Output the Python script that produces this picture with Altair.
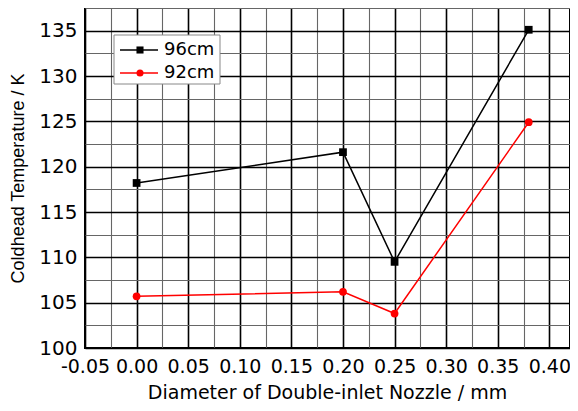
import altair as alt
import pandas as pd

# ---- data ----
diam = [0.00, 0.20, 0.25, 0.38]
t_96 = [118.2, 121.6, 109.5, 135.1]
t_92 = [105.7, 106.2, 103.8, 124.9]
series = ["96cm", "92cm"]
colors = ["#000000", "#ff0000"]
shapes = ["square", "circle"]

x_ticks = [-0.05, -0.025, 0.0, 0.025, 0.05, 0.075, 0.1, 0.125, 0.15, 0.175,
           0.2, 0.225, 0.25, 0.275, 0.3, 0.325, 0.35, 0.375, 0.4]
y_ticks = [100, 102.5, 105, 107.5, 110, 112.5, 115, 117.5, 120, 122.5,
           125, 127.5, 130, 132.5, 135, 137.5]

rows = []
for name, vals in zip(series, [t_96, t_92]):
    for d, t in zip(diam, vals):
        rows.append({"d": d, "t": t, "s": name})
df = pd.DataFrame(rows)

FONT = "DejaVu Sans"

x_axis = alt.Axis(
    values=x_ticks,
    labelExpr="abs(round(datum.value*40)) % 2 == 0 ? replace(format(datum.value, '.2f'), '\u2212', '-') : ''",
    grid=True,
    gridColor={"condition": {"test": "abs(round(datum.value*40)) % 2 == 0", "value": "#000000"}, "value": "#666666"},
    gridWidth={"condition": {"test": "abs(round(datum.value*40)) % 2 == 0", "value": 1.6}, "value": 1.1},
    ticks=False, domain=False, labelPadding=9, labelFlush=False, labelOverlap=False,
    labelBound=False, labelFontSize=19,
    titleX=242, titleY=44, titleBaseline="middle", titleAlign="center",
    titleFont=FONT, titleFontSize=19,
)
y_axis = alt.Axis(
    values=y_ticks,
    labelExpr="round(datum.value*2) % 10 == 0 ? format(datum.value, 'd') : ''",
    grid=True,
    gridColor={"condition": {"test": "round(datum.value*2) % 10 == 0", "value": "#000000"}, "value": "#666666"},
    gridWidth={"condition": {"test": "round(datum.value*2) % 10 == 0", "value": 1.6}, "value": 1.1},
    ticks=False, domain=False, labelPadding=8, labelFlush=False, labelOverlap=False,
    labelFontSize=20,
    titleX=-67, titleY=170, titleBaseline="middle", titleAlign="center", titleAngle=-90,
    titleFont="Liberation Sans", titleFontSize=18,
)

base = alt.Chart(df).encode(
    x=alt.X("d:Q", scale=alt.Scale(domain=[-0.05, 0.42], nice=False, zero=False),
            axis=x_axis, title="Diameter of Double-inlet Nozzle / mm"),
    y=alt.Y("t:Q", scale=alt.Scale(domain=[100, 137.5], nice=False, zero=False),
            axis=y_axis, title="Coldhead Temperature / K"),
    color=alt.Color("s:N", scale=alt.Scale(domain=series, range=colors), legend=None),
)
lines = base.mark_line(strokeWidth=1.5)
points = base.mark_point(filled=True, opacity=1, size=60).encode(
    shape=alt.Shape("s:N", scale=alt.Scale(domain=series, range=shapes), legend=None)
)

layers = [lines, points]

# ---- manual legend box ----
legend_box = alt.Chart(pd.DataFrame({"s": [series[0]]})).mark_rect(
    fill="white", stroke="#888888", strokeWidth=1
).encode(x=alt.value(29), x2=alt.value(135), y=alt.value(27), y2=alt.value(76))
layers.append(legend_box)

for i, name in enumerate(series):
    yy = 42 + 23 * i
    one = pd.DataFrame({"s": [name]})
    layers.append(alt.Chart(one).mark_rule(color=colors[i], strokeWidth=1.5).encode(
        x=alt.value(35), x2=alt.value(73), y=alt.value(yy)))
    layers.append(alt.Chart(one).mark_point(shape=shapes[i], filled=True, color=colors[i],
                                            opacity=1, size=50).encode(
        x=alt.value(55), y=alt.value(yy)))
    layers.append(alt.Chart(one).mark_text(align="left", baseline="middle", fontSize=18,
                                           font=FONT, color="black").encode(
        x=alt.value(79), y=alt.value(yy), text="s:N"))

chart = alt.layer(*layers).properties(
    width=485, height=340,
    padding={"left": 77, "top": 0, "right": 0, "bottom": 55},
    autosize="none",
    background="white",
).configure_axis(
    labelFont=FONT, labelColor="black",
    titleColor="black", titleFontWeight="normal",
).configure_view(stroke="black", strokeWidth=2)

chart.save("out.html", embed_options={"renderer": "svg", "actions": False})
